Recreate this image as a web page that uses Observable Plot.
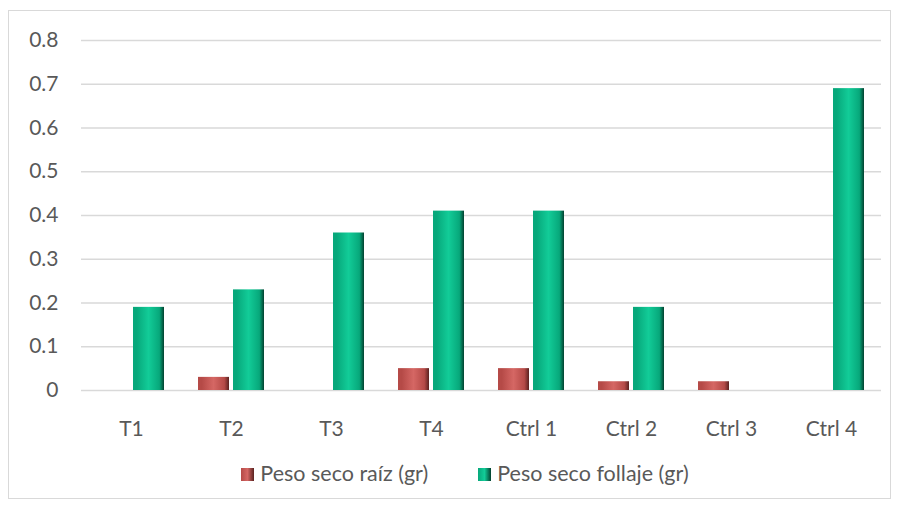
<!DOCTYPE html>
<html><head><meta charset="utf-8">
<script src="https://cdn.jsdelivr.net/npm/d3@7"></script>
<script src="https://cdn.jsdelivr.net/npm/@observablehq/plot@0.6"></script>
<style>
body{margin:0;background:#fff;font-family:Lato,"Open Sans",sans-serif;}
#frame{position:absolute;left:8px;top:10px;width:883px;height:489px;border:1px solid #d9d9d9;box-sizing:border-box;}
#chart{position:absolute;left:0;top:0;}
#legend{position:absolute;left:15px;top:460px;width:900px;text-align:center;font-size:21.5px;line-height:26px;color:#595959;}
#legend span.item{display:inline-block;margin:0 20px;}
#legend span.item + span.item{margin-left:30px;}
#legend span.sw{display:inline-block;width:13px;height:13px;margin-right:6px;vertical-align:0px;}
</style></head><body>
<div id="frame"></div>
<div id="chart"></div>
<div id="legend"></div>
<script>
const categories = ["T1","T2","T3","T4","Ctrl 1","Ctrl 2","Ctrl 3","Ctrl 4"];
const seriesNames = ["Peso seco raíz (gr)","Peso seco follaje (gr)"];
const raiz = [0, 0.03, 0, 0.05, 0.05, 0.02, 0.02, 0];
const follaje = [0.19, 0.23, 0.36, 0.41, 0.41, 0.19, 0, 0.69];
const yTicks = [0, 0.1, 0.2, 0.3, 0.4, 0.5, 0.6, 0.7, 0.8];
const gradIds = ["url(#gRed)", "url(#gGreen)"];

const data = [];
categories.forEach((c, i) => {
  data.push({cat: c, series: seriesNames[0], value: raiz[i]});
  data.push({cat: c, series: seriesNames[1], value: follaje[i]});
});

const plot = Plot.plot({
  width: 900, height: 440,
  marginLeft: 79, marginRight: 18, marginTop: 40, marginBottom: 50,
  style: {fontFamily: "Lato, 'Open Sans', sans-serif", fontSize: "21px", color: "#595959", background: "transparent"},
  fx: {domain: categories, padding: 0, label: null, tickSize: 0, tickPadding: 31},
  x: {domain: seriesNames, paddingInner: 0.111, paddingOuter: 0.45, axis: null},
  y: {domain: [0, 0.8], ticks: yTicks, label: null, tickSize: 0, tickPadding: 23, tickFormat: d => d === 0 ? "0" : d3.format(".1f")(d)},
  color: {domain: seriesNames, range: gradIds},
  marks: [
    Plot.gridY(yTicks, {stroke: "#d9d9d9", strokeOpacity: 1, strokeWidth: 1.3}),
    Plot.barY(data, {fx: "cat", x: "series", y: "value", fill: "series"}),
  ]
});
document.getElementById("chart").appendChild(plot);

// gradient defs for bevel-like look
const svg = d3.select(plot);
const defs = svg.insert("defs", ":first-child");
function grad(id, dark, mid, light) {
  const g = defs.append("linearGradient").attr("id", id).attr("x1", "0").attr("x2", "1").attr("y1", "0").attr("y2", "0");
  g.append("stop").attr("offset", "0%").attr("stop-color", mid);
  g.append("stop").attr("offset", "12%").attr("stop-color", mid);
  g.append("stop").attr("offset", "50%").attr("stop-color", light);
  g.append("stop").attr("offset", "85%").attr("stop-color", mid);
  g.append("stop").attr("offset", "100%").attr("stop-color", dark);
}
grad("gRed", "#5a2220", "#b54a47", "#d56764");
grad("gGreen", "#03412f", "#07a87b", "#12cc98");

// legend
const lg = document.getElementById("legend");
seriesNames.forEach((s, i) => {
  const it = document.createElement("span"); it.className = "item";
  const sw = document.createElement("span"); sw.className = "sw"; sw.style.background = i === 0 ? "linear-gradient(90deg,#b54a47,#d56764,#5a2220)" : "linear-gradient(90deg,#07a87b,#12cc98,#03412f)";
  it.appendChild(sw); it.appendChild(document.createTextNode(s));
  lg.appendChild(it);
});
</script>
</body></html>
